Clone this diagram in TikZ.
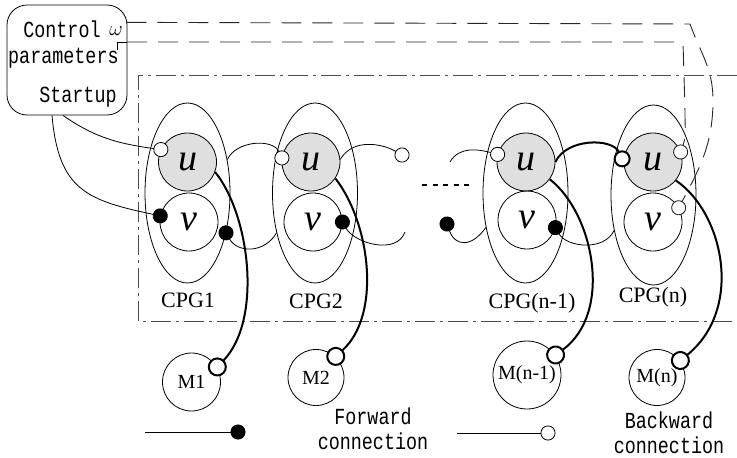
\documentclass[tikz,border=0pt]{standalone}
\usepackage{fontspec}
\setmainfont{Liberation Serif}
\newfontfamily\ctrlfont[FakeStretch=0.8]{Liberation Mono}
\usetikzlibrary{shapes.geometric,arrows.meta,positioning}

\begin{document}
\begin{tikzpicture}[x=1pt, y=1pt, line width=0.8pt,
    cpg/.style={draw, ellipse, minimum width=85pt, minimum height=180pt, inner sep=0pt},
    unit/.style={draw, circle, minimum size=58pt, inner sep=0pt, font=\fontsize{38}{38}\selectfont\itshape},
    active/.style={unit, fill=gray!25},
    motor/.style={draw, circle, minimum size=56pt, inner sep=0pt, font=\fontsize{20}{20}\selectfont},
    tag/.style={font=\fontsize{22}{22}\selectfont},
    mono/.style={font=\fontsize{23}{25}\ctrlfont, inner sep=0pt},
    fwdend/.style={-{Circle[length=15pt,width=15pt]}, shorten >=-7.5pt},
    fwdstart/.style={{Circle[length=15pt,width=15pt]}-, shorten <=-7.5pt},
    bwd/.style={-{Circle[length=15pt,width=15pt,fill=white]}, shorten >=-7.5pt},
    drive/.style={line width=2pt, -{Circle[length=19pt,width=19pt,fill=white]}, shorten >=-9pt},
    param/.style={draw=black!85, line width=0.9pt, dash pattern=on 20pt off 11pt}]
    \useasboundingbox (0,0) rectangle (737,-458);

    % Frame round the CPG network
    \draw[black!70, dash pattern=on 20pt off 5pt on 3pt off 5pt] (737,-75) -- (138,-75) -- (138,-321) -- (737,-321);

    % Control box
    \node[draw, rounded corners=20pt, minimum width=120pt, minimum height=110pt] (ctrl) at (67,-60) {};
    \node[mono, anchor=base east] (ctrltxt) at (101,-37) {Control};
    \node[font=\fontsize{20}{20}\selectfont, anchor=base] (omega) at (116,-35) {$\omega$};
    \node[mono, anchor=base east] (partxt) at (119,-63) {parameters};
    \node[mono, anchor=base east] (starttxt) at (117,-102) {Startup};
    \coordinate (hook) at (117,-50);
    \coordinate (hookend) at (127,-42);

    % CPG units
    \node[cpg] (cpg1) at (187.5,-193) {};
    \node[cpg] (cpg2) at (315,-193) {};
    \node[cpg] (cpgn1) at (525.5,-193) {};
    \node[cpg] (cpgn) at (653.5,-195) {};
    \node[active] (u1) at (187.5,-162) {u};
    \node[unit] (v1) at (189,-222) {v};
    \node[active] (u2) at (311,-162) {u};
    \node[unit] (v2) at (313,-222) {v};
    \node[active] (un1) at (526,-162) {u};
    \node[unit] (vn1) at (527,-220) {v};
    \node[active] (un) at (653,-162) {u};
    \node[unit] (vn) at (653,-222) {v};
    \node[tag] (l1) at (188,-300) {CPG1};
    \node[tag] (l2) at (316,-301) {CPG2};
    \node[tag] (ln1) at (532,-303) {CPG(n-1)};
    \node[tag] (ln) at (653,-297) {CPG(n)};

    % Motors
    \node[motor, minimum size=58pt] (m1) at (191.5,-382) {M1};
    \node[motor] (m2) at (316,-377.5) {M2};
    \node[motor, minimum size=68pt] (mn1) at (527,-375) {M(n-1)};
    \node[motor] (mn) at (657,-377.5) {M(n)};

    % Startup links
    \draw[bwd] ([xshift=-4pt]ctrl.south) to[out=-35,in=172] (u1.155);
    \draw[fwdend] ([xshift=-15pt]ctrl.south) to[out=-85,in=168,looseness=1.3] (v1.168);

    % Links between the CPGs
    \coordinate (bk2) at (402,-155);
    \coordinate (fw2) at (405,-232);
    \coordinate (bkin) at (450,-162);
    \coordinate (fwin) at (447,-224);
    \draw[bwd] (cpg1.40) to[out=65,in=115] (u2.172);
    \draw[bwd] (u2.5) to[out=60,in=150] (bk2);
    \draw[fwdstart] (cpg1.-46) to[out=-60,in=-120,looseness=1.2] (cpg2.-134);
    \draw[fwdstart] (v2.east) to[out=-60,in=-110] (fw2);
    \draw[line width=1.2pt, dash pattern=on 5pt off 5.5pt] (422,-185) -- (472,-185);
    \draw[bwd] (bkin) to[out=60,in=165] (un1.165);
    \draw[fwdstart] (fwin) to[out=-70,in=-125,looseness=1.6] (cpgn1.-139);
    \draw[line width=2pt, shorten >=-5pt, -{Circle[length=17pt,width=17pt,fill=white]}] (un1.east) to[out=65,in=115] (un.west);
    \draw[fwdstart] (vn1.-15) to[out=-60,in=-115] (cpgn.-138);

    % Control parameters
    \draw (hook) |- (hookend);
    \draw[param, bwd] (omega.north east) -- (690,-24) to[out=-70,in=90] (713,-100) to[out=-90,in=62] (vn.29);
    \draw[param, bwd, rounded corners=5pt] (hookend) -- (683,-42) -- (685,-110) to[out=-90,in=70] (un.20);

    % Motor drive
    \draw[drive] (u1.-20) to[out=-51,in=46,out distance=55pt,in distance=66pt] (m1.30);
    \draw[drive] (u2.-34) to[out=-52,in=42,out distance=56pt,in distance=63pt] (m2.47);
    \draw[drive] (un1.-36) to[out=-38,in=36,out distance=56pt,in distance=72pt] (mn1.35);
    \draw[drive] (un.-39) to[out=-34,in=39,out distance=57pt,in distance=83pt] (mn.36);

    % Legend
    \coordinate (fwa) at (145,-432);
    \coordinate (fwb) at (238,-432);
    \coordinate (bwa) at (457,-433);
    \coordinate (bwb) at (548,-433);
    \draw[fwdend] (fwa) -- (fwb);
    \draw[bwd] (bwa) -- (bwb);
    \node[mono, align=center] (fwtxt) at (373,-429) {Forward\\connection};
    \node[mono, align=center] (bwtxt) at (669,-433) {Backward\\connection};
\end{tikzpicture}
\end{document}
